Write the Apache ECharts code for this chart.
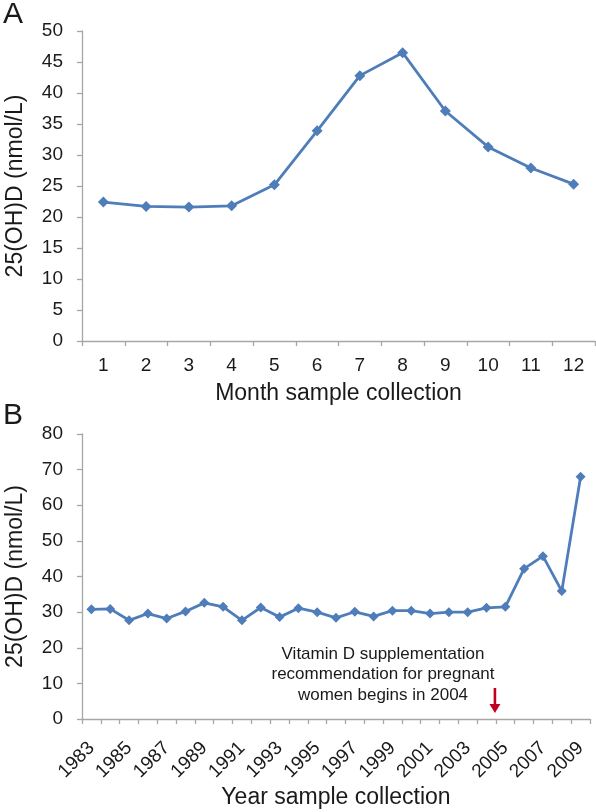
<!DOCTYPE html>
<html><head><meta charset="utf-8">
<script src="https://cdn.jsdelivr.net/npm/echarts@6/dist/echarts.min.js"></script>
<style>html,body{margin:0;padding:0;background:#fff}#c{width:596px;height:812px}</style>
</head><body><div id="c"></div>
<script>
var months = ['1','2','3','4','5','6','7','8','9','10','11','12'];
var monthValues = [22.4, 21.7, 21.6, 21.8, 25.2, 33.9, 42.8, 46.5, 37.1, 31.3, 27.9, 25.3];
var years = ['1983','1984','1985','1986','1987','1988','1989','1990','1991','1992','1993','1994','1995','1996','1997','1998','1999','2000','2001','2002','2003','2004','2005','2006','2007','2008','2009'];
var yearValues = [30.8, 30.9, 27.7, 29.6, 28.2, 30.2, 32.6, 31.5, 27.7, 31.3, 28.6, 31.1, 30.0, 28.4, 30.1, 28.8, 30.4, 30.4, 29.6, 30.0, 30.0, 31.2, 31.5, 42.2, 45.7, 35.9, 68.0];
var yTitle = '25(OH)D (nmol/L)';
var note = 'Vitamin D supplementation\nrecommendation for pregnant\nwomen begins in 2004';

var FONT = '"Liberation Sans", Arial, sans-serif';
var TXT = '#1a1a1a';
var AX = '#a6a6a6';
var BLUE = '#4f7dba';

function xAx(idx, data, extra) {
  var o = {
    type: 'category', gridIndex: idx, data: data, boundaryGap: true,
    axisLine: {lineStyle: {color: AX, width: 1.3}},
    axisTick: {show: true, length: 5, interval: 0, alignWithLabel: false, lineStyle: {color: AX, width: 1.3}},
    axisLabel: {color: TXT, fontSize: 19, fontFamily: FONT, margin: 15},
    nameLocation: 'middle',
    nameTextStyle: {color: TXT, fontSize: 23, fontFamily: FONT},
    splitLine: {show: false}
  };
  for (var k in extra) o[k] = extra[k];
  return o;
}
function yAx(idx, max, interval) {
  return {
    type: 'value', gridIndex: idx, min: 0, max: max, interval: interval,
    name: yTitle, nameLocation: 'middle', nameGap: 55, nameRotate: 90,
    nameTextStyle: {color: TXT, fontSize: 23, fontFamily: FONT},
    axisLine: {show: true, lineStyle: {color: AX, width: 1.3}},
    axisTick: {show: true, length: 5, lineStyle: {color: AX, width: 1.3}},
    axisLabel: {color: TXT, fontSize: 19, fontFamily: FONT, margin: 19},
    splitLine: {show: false}
  };
}

var chart = echarts.init(document.getElementById('c'), null, {renderer: 'canvas'});
var xa0 = xAx(0, months, {name: 'Month sample collection', nameGap: 41});
var xa1 = xAx(1, years, {name: 'Year sample collection', nameGap: 67});
xa1.axisLabel = {color: TXT, fontSize: 19, fontFamily: FONT, margin: 26, rotate: 45, interval: 1};
chart.setOption({
  animation: false,
  grid: [
    {left: 82, top: 31, width: 513, height: 310, containLabel: false, outerBoundsMode: 'none'},
    {left: 82, top: 434, width: 508, height: 285, containLabel: false, outerBoundsMode: 'none'}
  ],
  xAxis: [xa0, xa1],
  yAxis: [yAx(0, 50, 5), yAx(1, 80, 10)],
  series: [
    {type: 'line', xAxisIndex: 0, yAxisIndex: 0, data: monthValues, symbol: 'diamond', symbolSize: 11,
     lineStyle: {color: BLUE, width: 2.8}, itemStyle: {color: BLUE}},
    {type: 'line', xAxisIndex: 1, yAxisIndex: 1, data: yearValues, symbol: 'diamond', symbolSize: 10,
     lineStyle: {color: BLUE, width: 2.8}, itemStyle: {color: BLUE}}
  ]
});

// arrow placed at the 2004/2005 boundary via the axis scale
var p04 = chart.convertToPixel({xAxisIndex: 1, yAxisIndex: 1}, ['2004', 0]);
var p05 = chart.convertToPixel({xAxisIndex: 1, yAxisIndex: 1}, ['2005', 0]);
var ax = (p04[0] + p05[0]) / 2 - 1;
var ay = p04[1];
var RED = '#c0001f';
chart.setOption({
  graphic: [
    {type: 'text', left: 3, top: 0, style: {text: 'A', fontSize: 30, fontFamily: FONT, fill: TXT}},
    {type: 'text', left: 3, top: 401, style: {text: 'B', fontSize: 30, fontFamily: FONT, fill: TXT}},
    {type: 'text', x: 383, y: 644, style: {text: note, fontSize: 17, fontFamily: FONT, fill: TXT, align: 'center', verticalAlign: 'top', lineHeight: 20.5}},
    {type: 'line', shape: {x1: ax, y1: ay - 31, x2: ax, y2: ay - 10}, style: {stroke: RED, lineWidth: 2.6}},
    {type: 'polygon', shape: {points: [[ax - 5.5, ay - 15], [ax + 5.5, ay - 15], [ax, ay - 6]]}, style: {fill: RED}}
  ]
});
</script></body></html>
